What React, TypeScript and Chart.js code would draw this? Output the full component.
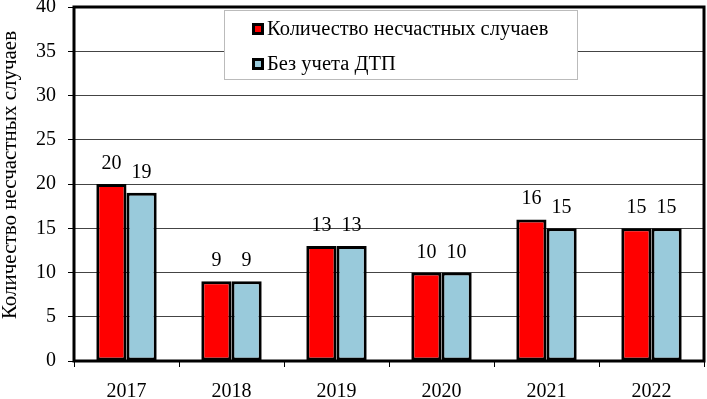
import React, { useEffect, useRef } from "react";
import { Chart, registerables } from "chart.js";

Chart.register(...registerables);

const categories = ["2017", "2018", "2019", "2020", "2021", "2022"];
const accidents = [20, 9, 13, 10, 16, 15];
const withoutRoadAccidents = [19, 9, 13, 10, 15, 15];
const seriesNames = ["Количество несчастных случаев", "Без учета ДТП"];
const yAxisTitle = "Количество несчастных случаев";

const FONT = "'Liberation Serif', 'Times New Roman', Times, serif";

const valueLabels = {
  id: "valueLabels",
  afterDatasetsDraw(chart: any) {
    const ctx = chart.ctx;
    ctx.save();
    ctx.font = `20px ${FONT}`;
    ctx.fillStyle = "#000";
    ctx.textAlign = "center";
    ctx.textBaseline = "alphabetic";
    chart.data.datasets.forEach((ds: any, i: number) => {
      const meta = chart.getDatasetMeta(i);
      meta.data.forEach((bar: any, j: number) => {
        ctx.fillText(String(ds.data[j]), bar.x, bar.y - 15);
      });
    });
    ctx.restore();
  },
};

const frameAndLegend = {
  id: "frameAndLegend",
  afterDraw(chart: any) {
    const ctx = chart.ctx;
    const a = chart.chartArea;
    ctx.save();
    ctx.strokeStyle = "#000";
    ctx.lineWidth = 3;
    ctx.strokeRect(a.left, a.top, a.right - a.left, a.bottom - a.top);

    // y axis title
    ctx.save();
    ctx.translate(10, (a.top + a.bottom) / 2 - 9);
    ctx.rotate(-Math.PI / 2);
    ctx.font = `21px ${FONT}`;
    ctx.fillStyle = "#000";
    ctx.textAlign = "center";
    ctx.textBaseline = "middle";
    ctx.fillText(yAxisTitle, 0, 0);
    ctx.restore();

    // legend box
    const bx = a.left + 150;
    const by = a.top + 3;
    const bw = 353;
    const bh = 69;
    ctx.fillStyle = "#fff";
    ctx.fillRect(bx, by, bw, bh);
    ctx.strokeStyle = "#bbbbbb";
    ctx.lineWidth = 1;
    ctx.strokeRect(bx + 0.5, by + 0.5, bw, bh);
    ctx.font = `20.5px ${FONT}`;
    ctx.textAlign = "left";
    ctx.textBaseline = "alphabetic";
    chart.data.datasets.forEach((ds: any, i: number) => {
      const mx = bx + 28;
      const my = by + 13 + i * 35;
      ctx.fillStyle = "#000";
      ctx.fillRect(mx, my, 12, 12);
      ctx.fillStyle = ds.backgroundColor;
      ctx.fillRect(mx + 3, my + 3, 6, 6);
      ctx.fillStyle = "#000";
      ctx.fillText(ds.label, mx + 15, my + 12);
    });
    ctx.restore();
  },
};

export default function App() {
  const ref = useRef<HTMLCanvasElement>(null);
  useEffect(() => {
    document.body.style.margin = "0";
    const chart = new Chart(ref.current!, {
      type: "bar",
      data: {
        labels: categories,
        datasets: [
          {
            label: seriesNames[0],
            data: accidents,
            backgroundColor: "#ff0000",
            borderColor: "#000",
            borderWidth: 3,
            borderSkipped: false,
            categoryPercentage: 0.575,
            barPercentage: 1,
          },
          {
            label: seriesNames[1],
            data: withoutRoadAccidents,
            backgroundColor: "#99cadb",
            borderColor: "#000",
            borderWidth: 3,
            borderSkipped: false,
            categoryPercentage: 0.575,
            barPercentage: 1,
          },
        ],
      },
      options: {
        animation: false,
        responsive: false,
        maintainAspectRatio: false,
        layout: { padding: { top: 7, right: 3, left: 0, bottom: 0 } },
        plugins: {
          legend: { display: false },
          tooltip: { enabled: false },
        },
        scales: {
          x: {
            afterFit(scale: any) {
              scale.height = 38;
              scale.paddingLeft = 0;
              scale.paddingRight = 0;
            },
            border: { display: false },
            grid: {
              offset: true,
              drawOnChartArea: false,
              drawTicks: true,
              tickLength: 6,
              color: "#000",
              lineWidth: 1,
            },
            ticks: {
              color: "#000",
              font: { family: FONT, size: 20 },
              padding: 13,
            },
          },
          y: {
            min: 0,
            max: 40,
            afterFit(scale: any) {
              scale.width = 74;
              scale.paddingTop = 0;
              scale.paddingBottom = 0;
            },
            border: { display: false },
            grid: {
              color: "#444",
              tickColor: "#000",
              lineWidth: 1,
              tickLength: 6,
            },
            ticks: {
              stepSize: 5,
              color: "#000",
              font: { family: FONT, size: 20 },
              padding: 12,
            },
          },
        },
      },
      plugins: [valueLabels, frameAndLegend],
    });
    return () => chart.destroy();
  }, []);
  return (
    <div style={{ width: 707, height: 399 }}>
      <canvas ref={ref} width={707} height={399} style={{ display: "block" }} />
    </div>
  );
}
